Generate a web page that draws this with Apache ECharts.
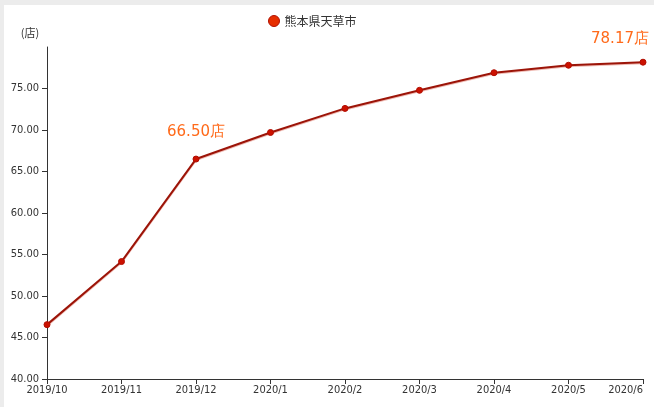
<!DOCTYPE html>
<html><head><meta charset="utf-8">
<script src="https://cdn.jsdelivr.net/npm/echarts@6/dist/echarts.min.js"></script>
<style>
*{box-sizing:content-box;}
html,body{margin:0;padding:0;width:654px;height:407px;overflow:hidden;background:#ececec;}
#chart{position:absolute;left:4px;top:5px;width:650px;height:402px;background:#fff;}
</style></head>
<body><div id="chart"></div>
<script>
const seriesName = '熊本県天草市';
const categories = ['2019/10','2019/11','2019/12','2020/1','2020/2','2020/3','2020/4','2020/5','2020/6'];
const values = [46.55, 54.15, 66.50, 69.70, 72.60, 74.78, 76.90, 77.80, 78.17];
const labeledIndex = [2, 8];
const yUnit = '(店)';

const labelOffsets = {2: [0, -11], 8: [-23, -7]};
const data = values.map((v, i) => {
  if (labeledIndex.indexOf(i) >= 0) {
    return {value: v, label: {show: true, position: 'top', offset: labelOffsets[i],
      formatter: p => p.value.toFixed(2) + '店', color: '#ff6a1a', fontSize: 15,
      fontFamily: 'DejaVu Sans, sans-serif'}};
  }
  return v;
});

const chart = echarts.init(document.getElementById('chart'), null, {renderer: 'canvas', width: 650, height: 402});
const narrow = "'Liberation Sans Narrow', 'DejaVu Sans Condensed', sans-serif";
chart.setOption({
  animation: false,
  legend: {
    data: [{name: seriesName, icon: 'circle', itemStyle: {color: '#e62e00', borderColor: '#b01000', borderWidth: 1}}],
    left: 259, top: 5, itemWidth: 11, itemHeight: 11, itemGap: 3,
    textStyle: {fontSize: 12, color: '#333', fontFamily: "'Noto Sans CJK JP', sans-serif"}
  },
  grid: {left: 43, right: 11, top: 42, bottom: 28, outerBoundsMode: 'none', containLabel: false},
  xAxis: {
    type: 'category', data: categories, boundaryGap: false,
    axisLine: {lineStyle: {color: '#333', width: 1}},
    axisTick: {show: true, length: 5, lineStyle: {color: '#333'}},
    axisLabel: {color: '#333', fontSize: 11, margin: 6, fontFamily: narrow, interval: 0, alignMaxLabel: 'right'}
  },
  yAxis: {
    type: 'value', min: 40, max: 80, interval: 5,
    name: yUnit, nameLocation: 'end', nameGap: 9,
    nameTextStyle: {color: '#333', fontSize: 11, fontFamily: "'Noto Sans CJK JP', sans-serif", padding: [0, 34, 0, 0]},
    axisLine: {show: true, lineStyle: {color: '#333', width: 1}},
    axisTick: {show: true, length: 5, lineStyle: {color: '#333'}},
    axisLabel: {color: '#333', fontSize: 11, margin: 8, fontFamily: narrow, showMaxLabel: false,
      formatter: v => v.toFixed(2)},
    splitLine: {show: false}
  },
  series: [{
    name: seriesName, type: 'line', data: data,
    symbol: 'circle', symbolSize: 6,
    itemStyle: {color: '#cc1100', borderColor: '#b00d00', borderWidth: 1},
    lineStyle: {color: '#9c1408', width: 2, shadowColor: 'rgba(210,60,40,0.35)', shadowBlur: 0, shadowOffsetY: 1}
  }]
});
</script></body></html>
